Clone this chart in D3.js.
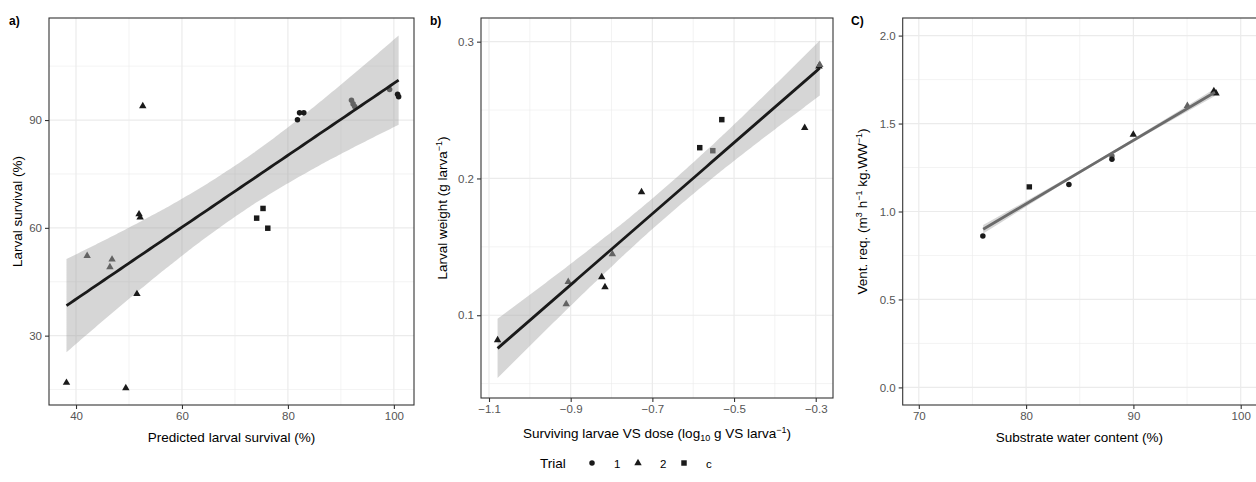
<!DOCTYPE html>
<html>
<head>
<meta charset="utf-8">
<script src="https://cdn.jsdelivr.net/npm/d3@7"></script>
<style>
  body { margin: 0; background: #fff; }
  svg { display: block; font-family: "Liberation Sans", Arial, sans-serif; }
</style>
</head>
<body>
<svg id="chart" width="1256" height="482"></svg>
<script>
// ---- data ----
const trialKeys = ["1", "2", "c"];

// a) predicted vs observed larval survival (%)
const aPredicted = [81.8, 82.2, 83.0, 100.7, 100.9, 92.0, 92.3, 92.6, 99.2,
                    52.6, 51.9, 52.1, 51.5, 38.2, 49.4, 42.1, 46.8, 46.4,
                    75.3, 74.1, 76.2];
const aSurvival  = [90.1, 92.0, 92.0, 97.2, 96.5, 95.5, 94.5, 93.8, 98.5,
                    93.9, 63.8, 62.9, 41.6, 16.9, 15.4, 52.2, 51.2, 49.1,
                    65.4, 62.7, 59.9];
const aTrial = ["1","1","1","1","1","1","1","1","1",
                "2","2","2","2","2","2","2","2","2",
                "c","c","c"];
const aTone  = ["k","k","k","k","k","g","g","g","g",
                "k","k","k","k","k","k","g","g","g",
                "k","k","k"];
const aXTicks = [40, 60, 80, 100];
const aYTicks = [30, 60, 90];

// b) larval weight vs surviving larvae VS dose
const bDose   = [-0.292, -0.290, -0.530, -0.584, -0.552, -0.327, -0.7265,
                 -0.798, -0.906, -0.911, -0.824, -0.816, -1.079];
const bWeight = [0.282, 0.283, 0.243, 0.2225, 0.2203, 0.237, 0.190,
                 0.1447, 0.1244, 0.1081, 0.1279, 0.1206, 0.0818];
const bTrial = ["2","2","c","c","c","2","2","2","2","2","2","2","2"];
const bTone  = ["k","g","k","k","g","k","k","g","g","g","k","k","k"];
const bXTicks = [-1.1, -0.9, -0.7, -0.5, -0.3];
const bYTicks = [0.1, 0.2, 0.3];

// c) ventilation requirement vs substrate water content
const cWater = [75.97, 80.3, 83.99, 88.0, 88.0, 89.99, 95.03, 97.5, 97.7];
const cVent  = [0.861, 1.14, 1.154, 1.315, 1.297, 1.437, 1.601, 1.685, 1.672];
const cTrial = ["1","c","1","1","1","2","2","2","2"];
const cTone  = ["k","k","k","g","k","k","g","k","k"];
const cXTicks = [70, 80, 90, 100];
const cYTicks = [0, 0.5, 1.0, 1.5, 2.0];
// fitted line and its (narrow) band
const cFitX    = [76.0, 86.8, 97.6];
const cFitY    = [0.899, 1.289, 1.678];
const cFitHalf = [0.024, 0.008, 0.021];

// ---- helpers ----
const svg = d3.select("#chart");
const toneColor = { k: "#1a1a1a", g: "#636363" };
const shapeScale = d3.scaleOrdinal()
    .domain(trialKeys)
    .range([d3.symbolCircle, d3.symbolTriangle, d3.symbolSquare]);
const sizeOf = { "1": 24, "2": 24, "c": 30 };

// t quantiles (0.975) by degrees of freedom
const t975 = [NaN, 12.706, 4.303, 3.182, 2.776, 2.571, 2.447, 2.365, 2.306, 2.262, 2.228,
              2.201, 2.179, 2.160, 2.145, 2.131, 2.120, 2.110, 2.101, 2.093, 2.086,
              2.080, 2.074, 2.069, 2.064, 2.060, 2.056, 2.052, 2.048, 2.045, 2.042];

// linear model with 95% confidence band, like geom_smooth(method = "lm")
const fitLm = (xs, ys) => {
    const n = xs.length;
    const mx = d3.mean(xs), my = d3.mean(ys);
    const sxx = d3.sum(xs, x => (x - mx) ** 2);
    const sxy = d3.sum(xs, (x, i) => (x - mx) * (ys[i] - my));
    const b = sxy / sxx, a = my - b * mx;
    const sse = d3.sum(xs, (x, i) => (ys[i] - a - b * x) ** 2);
    const s = Math.sqrt(sse / (n - 2));
    const t = t975[n - 2];
    return x => {
        const y = a + b * x;
        const hw = t * s * Math.sqrt(1 / n + (x - mx) ** 2 / sxx);
        return { x, y, lo: y - hw, hi: y + hw };
    };
};

const minorOf = (ticks, domain) => {
    const step = ticks[1] - ticks[0];
    const m = ticks.map(v => v - step / 2).concat([ticks[ticks.length - 1] + step / 2]);
    return m.filter(v => v > domain[0] && v < domain[1]);
};

// text with super/subscripts
const richText = (sel, parts) => {
    parts.forEach(([str, kind]) => {
        const ts = sel.append("tspan").text(str);
        if (kind === "sup") ts.attr("dy", -5).attr("font-size", "9px");
        if (kind === "sub") ts.attr("dy", 3).attr("font-size", "9px");
        if (kind === "back-sup") ts.attr("dy", 5);
        if (kind === "back-sub") ts.attr("dy", -3);
    });
};

const drawPanel = (p) => {
    const x = d3.scaleLinear().domain(p.xDomain).range([p.left, p.right]);
    const y = d3.scaleLinear().domain(p.yDomain).range([p.bottom, p.top]);
    const g = svg.append("g");

    // clip
    const clipId = "clip-" + p.tag.replace(/\W/g, "");
    svg.append("clipPath").attr("id", clipId)
        .append("rect")
        .attr("x", p.left).attr("y", p.top)
        .attr("width", p.right - p.left).attr("height", p.bottom - p.top);

    const grid = g.append("g").attr("clip-path", `url(#${clipId})`);
    // minor grid
    grid.selectAll("line.vminor").data(minorOf(p.xTicks, p.xDomain)).enter().append("line")
        .attr("x1", d => x(d)).attr("x2", d => x(d)).attr("y1", p.top).attr("y2", p.bottom)
        .attr("stroke", "#ebebeb").attr("stroke-width", 0.6);
    grid.selectAll("line.hminor").data(minorOf(p.yTicks, p.yDomain)).enter().append("line")
        .attr("y1", d => y(d)).attr("y2", d => y(d)).attr("x1", p.left).attr("x2", p.right)
        .attr("stroke", "#ebebeb").attr("stroke-width", 0.6);
    // major grid
    grid.selectAll("line.vmajor").data(p.xTicks).enter().append("line")
        .attr("x1", d => x(d)).attr("x2", d => x(d)).attr("y1", p.top).attr("y2", p.bottom)
        .attr("stroke", "#ebebeb").attr("stroke-width", 1.2);
    grid.selectAll("line.hmajor").data(p.yTicks).enter().append("line")
        .attr("y1", d => y(d)).attr("y2", d => y(d)).attr("x1", p.left).attr("x2", p.right)
        .attr("stroke", "#ebebeb").attr("stroke-width", 1.2);

    // fit + ribbon (computed lm, or the band given by the panel)
    let fit;
    if (p.band) {
        fit = p.band;
    } else {
        const model = fitLm(p.xs, p.ys);
        const [x0, x1] = d3.extent(p.xs);
        fit = d3.range(0, 81).map(i => model(x0 + (x1 - x0) * i / 80));
    }
    const plot = g.append("g").attr("clip-path", `url(#${clipId})`);
    plot.append("path")
        .datum(fit)
        .attr("d", d3.area().curve(d3.curveNatural)
            .x(d => x(d.x)).y0(d => y(d.lo)).y1(d => y(d.hi)))
        .attr("fill", "#999999").attr("fill-opacity", 0.4);

    // points
    plot.selectAll("path.pt")
        .data(p.xs.map((v, i) => ({ x: v, y: p.ys[i], trial: p.trial[i], tone: p.tone[i] })))
        .enter().append("path")
        .attr("transform", d => `translate(${x(d.x)},${y(d.y)})`)
        .attr("d", d => d3.symbol().type(shapeScale(d.trial)).size(sizeOf[d.trial])())
        .attr("fill", d => toneColor[d.tone]);

    plot.append("path")
        .datum(fit)
        .attr("d", d3.line().x(d => x(d.x)).y(d => y(d.y)))
        .attr("fill", "none").attr("stroke", p.lineColor).attr("stroke-width", 2.8);

    // border
    g.append("rect")
        .attr("x", p.left).attr("y", p.top)
        .attr("width", p.right - p.left).attr("height", p.bottom - p.top)
        .attr("fill", "none").attr("stroke", "#333").attr("stroke-width", 1.1);

    // axes
    const ax = g.append("g")
        .attr("transform", `translate(0,${p.bottom})`)
        .call(d3.axisBottom(x).tickValues(p.xTicks).tickFormat(p.xFmt).tickSize(4).tickPadding(3));
    const ay = g.append("g")
        .attr("transform", `translate(${p.left},0)`)
        .call(d3.axisLeft(y).tickValues(p.yTicks).tickFormat(p.yFmt).tickSize(4).tickPadding(3));
    [ax, ay].forEach(a => {
        a.select(".domain").remove();
        a.selectAll(".tick line").attr("stroke", "#333").attr("stroke-width", 1.1);
        a.selectAll(".tick text").attr("fill", "#555")
            .style("font-size", "11.5px").style("font-family", "'Liberation Sans', Arial, sans-serif");
    });

    // tag
    svg.append("text").attr("x", p.tagX).attr("y", 25)
        .attr("font-size", "12px").attr("font-weight", "bold").attr("fill", "#000")
        .text(p.tag);

    // y title
    const yt = svg.append("text")
        .attr("transform", `translate(${p.yTitleX},${(p.top + p.bottom) / 2}) rotate(-90)`)
        .attr("text-anchor", "middle").attr("font-size", "13.5px").attr("fill", "#000");
    richText(yt, p.yTitle);

    // x title
    const xt = svg.append("text")
        .attr("x", (p.left + Math.min(p.right, 1256)) / 2).attr("y", p.xTitleY)
        .attr("text-anchor", "middle").attr("font-size", "13.5px").attr("fill", "#000");
    richText(xt, p.xTitle);
};

const f0 = d3.format("d");

drawPanel({
    tag: "a)", tagX: 9,
    left: 49, right: 414, top: 18, bottom: 405,
    xDomain: [34.9, 103.8], yDomain: [10.7, 118.4],
    xTicks: aXTicks, yTicks: aYTicks, xFmt: f0, yFmt: f0,
    xs: aPredicted, ys: aSurvival, trial: aTrial, tone: aTone,
    lineColor: "#1a1a1a",
    yTitleX: 22, xTitleY: 442,
    yTitle: [["Larval survival (%)"]],
    xTitle: [["Predicted larval survival (%)"]]
});

drawPanel({
    tag: "b)", tagX: 430,
    left: 481, right: 833, top: 18, bottom: 398,
    xDomain: [-1.1196, -0.2577], yDomain: [0.0395, 0.3173],
    xTicks: bXTicks, yTicks: bYTicks, xFmt: d3.format(".1f"), yFmt: d3.format(".1f"),
    xs: bDose, ys: bWeight, trial: bTrial, tone: bTone,
    lineColor: "#1a1a1a",
    yTitleX: 447, xTitleY: 438,
    yTitle: [["Larval weight (g larva"], ["\u22121", "sup"], [")", "back-sup"]],
    xTitle: [["Surviving larvae VS dose (log"], ["10", "sub"], [" g VS larva", "back-sub"], ["\u22121", "sup"], [")", "back-sup"]]
});

drawPanel({
    tag: "C)", tagX: 851,
    left: 902.7, right: 1256.8, top: 18, bottom: 405,
    xDomain: [68.5, 101.5], yDomain: [-0.1, 2.1],
    xTicks: cXTicks, yTicks: cYTicks, xFmt: f0, yFmt: d3.format(".1f"),
    xs: cWater, ys: cVent, trial: cTrial, tone: cTone,
    band: cFitX.map((v, i) => ({ x: v, y: cFitY[i], lo: cFitY[i] - cFitHalf[i], hi: cFitY[i] + cFitHalf[i] })),
    lineColor: "#6b6b6b",
    yTitleX: 867, xTitleY: 442,
    yTitle: [["Vent. req. (m"], ["3", "sup"], [" h", "back-sup"], ["\u22121", "sup"], [" kg.WW", "back-sup"], ["\u22121", "sup"], [")", "back-sup"]],
    xTitle: [["Substrate water content (%)"]]
});

// ---- legend ----
const legend = svg.append("g");
legend.append("text").attr("x", 540).attr("y", 468)
    .attr("font-size", "13.5px").attr("fill", "#000").text("Trial");
trialKeys.forEach((k, i) => {
    const sx = 592 + i * 46;
    legend.append("path")
        .attr("transform", `translate(${sx},463)`)
        .attr("d", d3.symbol().type(shapeScale(k)).size(sizeOf[k])())
        .attr("fill", "#1a1a1a");
    legend.append("text").attr("x", sx + 22).attr("y", 467.5)
        .attr("font-size", "11.5px").attr("fill", "#000").text(k);
});
</script>
</body>
</html>
